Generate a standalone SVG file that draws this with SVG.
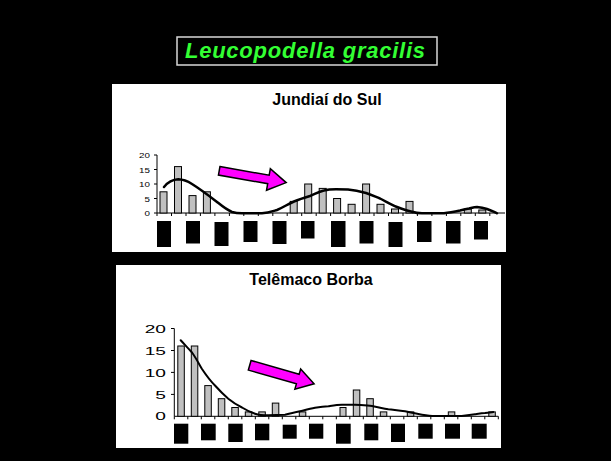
<svg xmlns="http://www.w3.org/2000/svg" width="611" height="461" viewBox="0 0 611 461">
<style>
.bar{fill:#C0C0C0;stroke:#000;stroke-width:1}
.ax{stroke:#000;stroke-width:1;fill:none}
.crv{fill:none;stroke:#000;stroke-linejoin:round;stroke-linecap:round}
.lbl{fill:#000}
.ttl{font-family:"Liberation Sans",Arial,sans-serif;font-weight:bold;font-size:16px;fill:#000;text-anchor:middle}
.num{font-family:"Liberation Sans",Arial,sans-serif;fill:#000;text-anchor:end}
.arr{fill:#FF00FF;stroke:#000;stroke-width:1.5;stroke-linejoin:miter}
</style>
<rect width="611" height="461" fill="#000"/>
<g id="title">
<rect x="177" y="37" width="260" height="28" fill="#000" stroke="#D8D8D8" stroke-width="1.5"/>
<text x="185" y="58" font-family="Liberation Sans,Arial,sans-serif" font-weight="bold" font-style="italic" font-size="22" fill="#33FF33" textLength="240" lengthAdjust="spacing">Leucopodella gracilis</text>
</g>
<g id="chart1">
<rect x="112" y="84" width="394" height="168" fill="#fff"/>
<text class="ttl" x="327" y="105">Jundiaí do Sul</text>
<g font-size="7">
<text class="num" transform="translate(150,157.5) scale(1.4,1)">20</text>
<text class="num" transform="translate(150,172.5) scale(1.4,1)">15</text>
<text class="num" transform="translate(150,186.8) scale(1.4,1)">10</text>
<text class="num" transform="translate(150,201.5) scale(1.4,1)">5</text>
<text class="num" transform="translate(150,215.8) scale(1.4,1)">0</text>
</g>
<path class="ax" d="M157,155V213H505M154,155H157M154,169.5H157M154,184H157M154,198.5H157M154,213H157"/>
<path class="ax" d="M157,213v3M171.5,213v3M186,213v3M200.4,213v3M214.9,213v3M229.4,213v3M243.8,213v3M258.3,213v3M272.8,213v3M287.2,213v3M301.7,213v3M316.2,213v3M330.6,213v3M345.1,213v3M359.6,213v3M374,213v3M388.5,213v3M403,213v3M417.4,213v3M431.9,213v3M446.4,213v3M460.8,213v3M475.3,213v3M489.8,213v3"/>
<g>
<rect class="bar" x="160" y="191.8" width="7" height="21.2"/>
<rect class="bar" x="174.5" y="166.6" width="7" height="46.4"/>
<rect class="bar" x="189" y="195.6" width="7" height="17.4"/>
<rect class="bar" x="203.4" y="191.8" width="7" height="21.2"/>
<rect class="bar" x="290.2" y="201.4" width="7" height="11.6"/>
<rect class="bar" x="304.7" y="184" width="7" height="29"/>
<rect class="bar" x="319.2" y="188.4" width="7" height="24.6"/>
<rect class="bar" x="333.6" y="198.5" width="7" height="14.5"/>
<rect class="bar" x="348.1" y="204.3" width="7" height="8.7"/>
<rect class="bar" x="362.6" y="184" width="7" height="29"/>
<rect class="bar" x="377" y="204.3" width="7" height="8.7"/>
<rect class="bar" x="391.5" y="209" width="7" height="4"/>
<rect class="bar" x="406" y="201.4" width="7" height="11.6"/>
<rect class="bar" x="464.3" y="209" width="7" height="4"/>
<rect class="bar" x="478.8" y="210" width="7" height="3"/>
</g>
<path class="crv" stroke-width="2.5" d="M164,187 C168,182 173,179.5 178.3,179.3 C184,179.5 188,181.5 192,184 C200,189 208,195 216.7,201.7 C222,206 226,209.5 232,212 C236,213.2 238,213.3 242,213.3 L262,213.3 C268,213 272,211.5 277,210 C283,207.5 288,204 294,201.5 C300,199 305,197.5 310,196 C315,194 319,191.5 324,190.5 C328,189.5 331,189.3 336,189.3 L348,189.5 C354,190 359,191 366,193 C371,194.5 375,196.5 380,198.5 C386,201.5 391,204.5 397,207 C402,209 406,210.5 411,211.5 C415,212.7 418,213.3 422,213.3 L444,213.3 C450,212.5 455,211.5 460,210.5 C464,209.5 466,209 469,208.5 C472,207.8 474,207 477,207 C481,207.3 484,208 487,209 C491,210.3 494,212 497,213.3"/>
<polygon class="arr" transform="translate(219.2,170.8) rotate(10)" points="0,-4.3 50,-4.3 50,-11 68,0 50,11 50,4.3 0,4.3"/>
<g class="lbl">
<rect x="157" y="221" width="14" height="26"/>
<rect x="186" y="221" width="14" height="22.5"/>
<rect x="214.5" y="222" width="14" height="24"/>
<rect x="243.5" y="221" width="14" height="21"/>
<rect x="272.5" y="221" width="14" height="23"/>
<rect x="301" y="221" width="13.5" height="17.5"/>
<rect x="331" y="221" width="14.5" height="26"/>
<rect x="359.5" y="221" width="14" height="22.5"/>
<rect x="388.5" y="222" width="14" height="25"/>
<rect x="417" y="221" width="14.5" height="21"/>
<rect x="446" y="221" width="14.5" height="22.5"/>
<rect x="474" y="221" width="14" height="18.5"/>
</g>
</g>
<g id="chart2">
<rect x="116" y="265" width="385" height="183" fill="#fff"/>
<text class="ttl" x="311" y="284.5">Telêmaco Borba</text>
<g font-size="11.6">
<text class="num" transform="translate(166,332.8) scale(1.65,1)">20</text>
<text class="num" transform="translate(166,354.6) scale(1.65,1)">15</text>
<text class="num" transform="translate(166,376.5) scale(1.65,1)">10</text>
<text class="num" transform="translate(166,398.5) scale(1.65,1)">5</text>
<text class="num" transform="translate(166,420.4) scale(1.65,1)">0</text>
</g>
<path class="ax" d="M174.3,328.5V416.3H498.3M171,328.5H174.3M171,350.5H174.3M171,372.4H174.3M171,394.4H174.3"/>
<path class="ax" d="M174.3,416.3v3M187.8,416.3v3M201.3,416.3v3M214.8,416.3v3M228.3,416.3v3M241.8,416.3v3M255.3,416.3v3M268.8,416.3v3M282.3,416.3v3M295.8,416.3v3M309.3,416.3v3M322.8,416.3v3M336.3,416.3v3M349.8,416.3v3M363.3,416.3v3M376.8,416.3v3M390.3,416.3v3M403.8,416.3v3M417.3,416.3v3M430.8,416.3v3M444.3,416.3v3M457.8,416.3v3M471.3,416.3v3M484.8,416.3v3M498.3,416.3v3"/>
<g>
<rect class="bar" x="177.8" y="346" width="6.5" height="70.3"/>
<rect class="bar" x="191.3" y="346" width="6.5" height="70.3"/>
<rect class="bar" x="204.8" y="385.6" width="6.5" height="30.7"/>
<rect class="bar" x="218.3" y="398.7" width="6.5" height="17.6"/>
<rect class="bar" x="231.8" y="407.5" width="6.5" height="8.8"/>
<rect class="bar" x="245.3" y="411.9" width="6.5" height="4.4"/>
<rect class="bar" x="258.8" y="411.9" width="6.5" height="4.4"/>
<rect class="bar" x="272.3" y="403.1" width="6.5" height="13.2"/>
<rect class="bar" x="299.3" y="411.9" width="6.5" height="4.4"/>
<rect class="bar" x="340" y="407.5" width="6" height="8.8"/>
<rect class="bar" x="353.3" y="390" width="6.5" height="26.3"/>
<rect class="bar" x="366.8" y="398.7" width="6.5" height="17.6"/>
<rect class="bar" x="380.3" y="411.9" width="6.5" height="4.4"/>
<rect class="bar" x="407.3" y="411.9" width="6.5" height="4.4"/>
<rect class="bar" x="448.3" y="411.9" width="6.5" height="4.4"/>
<rect class="bar" x="488.8" y="411.9" width="6.5" height="4.4"/>
</g>
<path class="crv" stroke-width="2" d="M180.7,340.3 C185,345 188,348 192,352.5 C196,358 199,364 202,369 C206,375 210,380.5 215,385.5 C219,390 224,395 228.3,398.7 C233,402.5 237,405 242,407.5 C246,410 250,412 255,413.7 C259,415 264,415.3 268.3,415.3 L285,414.7 C290,413.7 295,412.5 300,411.3 C305,410 310,408.5 315,407.7 C320,407 324,406.5 328.3,406.2 C333,405.5 337,404.8 342,404.7 L355,404.7 C362,405 366,405.5 372,406 C378,407 383,408.5 388.3,409.3 C394,410 399,410.5 405,411.3 C411,412.5 416,413.8 422,414.7 C427,415.5 431,416 435,416 L461.7,416 C467,415.3 471,414.8 475,414.3 C479,413.7 482,413.2 485,413 C488,412.6 491,412.2 493.3,412"/>
<polygon class="arr" transform="translate(249.7,365.3) rotate(16)" points="0,-5 50,-5 50,-10.5 67,0 50,10.5 50,5 0,5"/>
<g class="lbl">
<rect x="174" y="423.7" width="14.3" height="20"/>
<rect x="201" y="423.7" width="14.7" height="16.6"/>
<rect x="228.3" y="423.7" width="14.4" height="18.3"/>
<rect x="255" y="423.7" width="14.3" height="16.6"/>
<rect x="282.7" y="424.7" width="14" height="14"/>
<rect x="309" y="423.7" width="14.3" height="15"/>
<rect x="336" y="423.7" width="14.7" height="20"/>
<rect x="364.3" y="423.7" width="14" height="16.6"/>
<rect x="391" y="423.7" width="14" height="18.3"/>
<rect x="418.3" y="423.7" width="14.4" height="15"/>
<rect x="445" y="423.7" width="15" height="15"/>
<rect x="471.7" y="423.7" width="15" height="15"/>
</g>
</g>
</svg>
